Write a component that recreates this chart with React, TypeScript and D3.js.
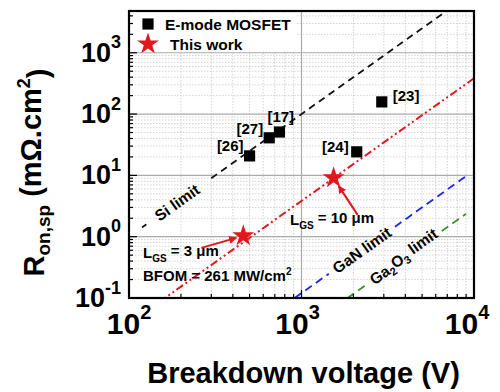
import React, { useEffect, useRef } from "react";
import * as d3 from "d3";

// E-mode MOSFET literature points (breakdown V, Ron,sp in mOhm.cm2)
const refLabels = ["[26]", "[27]", "[17]", "[24]", "[23]"];
const refVoltage = [500, 650, 745, 2090, 2920];
const refRon = [20.8, 41, 51, 24.2, 158];

// this work
const workVoltage = [460, 1535];
const workRon = [1.03, 9.1];
const workLabels = ["3", "10"];

// limit lines: Ron = k * V^2, drawn as segments (gaps leave room for labels)
const limitNames = ["Si", "GaN", "Ga2O3", "BFOM"];
const limitK = [1.0e-4, 1.2e-7, 2.92e-8, 3.83e-6];
const limitSegments = [
  [[119, 126], [300, 6700]],
  [[913, 1440], [3480, 8980]],
  [[1849, 2330], [6500, 8980]],
  [[150, 12000]],
];
const limitColors = ["#111", "#1f24f0", "#3f8a2c", "#e3161d"];
const limitDash = ["7,5", "8,5", "8,5", "8,3,2,3,2,3"];

const xTicks = [100, 1000, 10000];
const yTicks = [0.1, 1, 10, 100, 1000];

const W = 500;
const H = 392;
const FONT = "'Liberation Sans', Arial, sans-serif";

const App: React.FC = () => {
  const svgRef = useRef<SVGSVGElement>(null);

  useEffect(() => {
    if (!svgRef.current) return;
    const svg = d3.select(svgRef.current);
    svg.selectAll("*").remove();

    const left = 129, right = 474, top = 11, bottom = 298;
    const x = d3.scaleLog().domain([100, 10000]).range([left, right]);
    const y = d3.scaleLog().domain([0.1, 4800]).range([bottom, top]);

    const defs = svg.append("defs");
    defs.append("clipPath").attr("id", "plot-clip")
      .append("rect").attr("x", left).attr("y", top)
      .attr("width", right - left).attr("height", bottom - top);
    defs.append("marker").attr("id", "arrow-red")
      .attr("viewBox", "0 0 10 10").attr("refX", 9).attr("refY", 5)
      .attr("markerWidth", 4).attr("markerHeight", 4)
      .attr("orient", "auto")
      .append("path").attr("d", "M0,0 L10,5 L0,10 z").attr("fill", "#e3161d");

    svg.append("rect").attr("width", W).attr("height", H).attr("fill", "white");

    // grid
    const grid = svg.append("g");
    const xMinor: number[] = [];
    for (const d of [100, 1000]) for (let m = 2; m <= 9; m++) xMinor.push(d * m);
    const yMinor: number[] = [];
    for (const d of [0.1, 1, 10, 100, 1000]) for (let m = 2; m <= 9; m++) if (d * m < 4800) yMinor.push(d * m);

    grid.selectAll(".xm").data(xMinor).enter().append("line")
      .attr("x1", (d) => x(d)).attr("x2", (d) => x(d)).attr("y1", top).attr("y2", bottom)
      .attr("stroke", "#c8c8c8").attr("stroke-width", 0.8).attr("stroke-dasharray", "1.5,1.5");
    grid.selectAll(".ym").data(yMinor).enter().append("line")
      .attr("y1", (d) => y(d)).attr("y2", (d) => y(d)).attr("x1", left).attr("x2", right)
      .attr("stroke", "#c8c8c8").attr("stroke-width", 0.8).attr("stroke-dasharray", "1.5,1.5");
    grid.selectAll(".xM").data(xTicks.slice(1, -1)).enter().append("line")
      .attr("x1", (d) => x(d)).attr("x2", (d) => x(d)).attr("y1", top).attr("y2", bottom)
      .attr("stroke", "#aaa").attr("stroke-width", 1.2);
    grid.selectAll(".yM").data(yTicks.slice(1)).enter().append("line")
      .attr("y1", (d) => y(d)).attr("y2", (d) => y(d)).attr("x1", left).attr("x2", right)
      .attr("stroke", "#aaa").attr("stroke-width", 1.2);

    // legend background
    svg.append("rect").attr("x", left + 2).attr("y", top + 2)
      .attr("width", 165).attr("height", y(1000) - top - 4).attr("fill", "white");

    // limit lines
    const lineGen = d3.line<number>().x((v) => x(v));
    const lines = svg.append("g").attr("clip-path", "url(#plot-clip)");
    limitNames.forEach((name, i) => {
      limitSegments[i].forEach((seg) => {
        const vs = d3.range(0, 21).map((j) => seg[0] * Math.pow(seg[1] / seg[0], j / 20));
        lines.append("path")
          .attr("d", lineGen.y((v) => y(limitK[i] * v * v))(vs) as string)
          .attr("fill", "none")
          .attr("stroke", limitColors[i])
          .attr("stroke-width", name === "BFOM" ? 2 : 1.8)
          .attr("stroke-dasharray", limitDash[i]);
      });
    });

    // limit labels along the lines
    const angle = (-Math.atan((2 * (y(1) - y(10))) / (x(1000) - x(100))) * 180) / Math.PI;
    const limitLabel = (v: number, k: number, build: (t: any) => void) => {
      const px = x(v), py = y(k * v * v);
      const t = svg.append("text")
        .attr("transform", `translate(${px},${py}) rotate(${angle})`)
        .attr("text-anchor", "middle").attr("dy", "0.35em")
        .style("font-family", FONT).style("font-weight", "bold").style("font-size", "15.5px");
      build(t);
    };
    limitLabel(190, limitK[0], (t) => t.text("Si limit"));
    limitLabel(2240, limitK[1], (t) => t.text("GaN limit"));
    limitLabel(3950, limitK[2], (t) => {
      t.append("tspan").text("Ga");
      t.append("tspan").text("2").attr("font-size", "11px").attr("dy", "0.3em");
      t.append("tspan").text("O").attr("dy", "-0.3em");
      t.append("tspan").text("3").attr("font-size", "11px").attr("dy", "0.3em");
      t.append("tspan").text(" limit").attr("dy", "-0.3em");
    });

    // literature squares
    const sq = d3.symbol().type(d3.symbolSquare).size(125);
    svg.selectAll(".ref").data(refVoltage).enter().append("path")
      .attr("d", sq as any)
      .attr("transform", (d, i) => `translate(${x(d)},${y(refRon[i])})`)
      .attr("fill", "#000");
    const lblDx = [-6, -6, -12, -8, 11];
    const lblDy = [-5, -4, -10, 0, -1];
    svg.selectAll(".refl").data(refLabels).enter().append("text")
      .attr("x", (d, i) => x(refVoltage[i]) + lblDx[i])
      .attr("y", (d, i) => y(refRon[i]) + lblDy[i])
      .attr("text-anchor", (d, i) => (lblDx[i] > 0 || i === 2 ? "start" : "end"))
      .style("font-family", FONT).style("font-weight", "bold").style("font-size", "15px")
      .text((d) => d);

    // this work stars
    const star = d3.symbol().type(d3.symbolStar).size(150);
    svg.selectAll(".work").data(workVoltage).enter().append("path")
      .attr("d", star as any)
      .attr("transform", (d, i) => `translate(${x(d)},${y(workRon[i])})`)
      .attr("fill", "#e3161d");

    // arrows and annotations
    const s1x = x(workVoltage[0]), s1y = y(workRon[0]);
    const s2x = x(workVoltage[1]), s2y = y(workRon[1]);
    svg.append("line").attr("x1", s1x - 42).attr("y1", s1y + 12)
      .attr("x2", s1x - 7).attr("y2", s1y + 2)
      .attr("stroke", "#e3161d").attr("stroke-width", 2).attr("marker-end", "url(#arrow-red)");
    svg.append("line").attr("x1", s2x + 24).attr("y1", s2y + 37)
      .attr("x2", s2x + 5).attr("y2", s2y + 8)
      .attr("stroke", "#e3161d").attr("stroke-width", 2).attr("marker-end", "url(#arrow-red)");

    const lgs = (tx: number, ty: number, val: string) => {
      const t = svg.append("text").attr("x", tx).attr("y", ty)
        .style("font-family", FONT).style("font-weight", "bold").style("font-size", "15px");
      t.append("tspan").text("L");
      t.append("tspan").text("GS").attr("font-size", "10px").attr("dy", "0.35em");
      t.append("tspan").text(` = ${val} \u03bcm`).attr("dy", "-0.35em");
    };
    lgs(143, 258, workLabels[0]);
    lgs(290, 225, workLabels[1]);

    const bf = svg.append("text").attr("x", 143).attr("y", 281)
      .style("font-family", FONT).style("font-weight", "bold").style("font-size", "15px");
    bf.append("tspan").text("BFOM = 261 MW/cm");
    bf.append("tspan").text("2").attr("font-size", "10px").attr("dy", "-0.6em");

    // legend
    svg.append("path").attr("d", sq as any).attr("transform", "translate(148,24)").attr("fill", "#000");
    svg.append("path").attr("d", star as any).attr("transform", "translate(148,44)").attr("fill", "#e3161d");
    svg.append("text").attr("x", 165).attr("y", 30)
      .style("font-family", FONT).style("font-weight", "bold").style("font-size", "15.5px")
      .text("E-mode MOSFET");
    svg.append("text").attr("x", 170).attr("y", 50)
      .style("font-family", FONT).style("font-weight", "bold").style("font-size", "15.5px")
      .text("This work");

    // ticks (inward)
    const ticks = svg.append("g").attr("stroke", "#000").attr("stroke-width", 1.2);
    ticks.selectAll(".xt").data(xMinor).enter().append("line")
      .attr("x1", (d) => x(d)).attr("x2", (d) => x(d)).attr("y1", bottom).attr("y2", bottom - 4);
    ticks.selectAll(".xT").data(xTicks).enter().append("line")
      .attr("x1", (d) => x(d)).attr("x2", (d) => x(d)).attr("y1", bottom).attr("y2", bottom - 8);
    ticks.selectAll(".yt").data(yMinor).enter().append("line")
      .attr("y1", (d) => y(d)).attr("y2", (d) => y(d)).attr("x1", left).attr("x2", left + 4);
    ticks.selectAll(".yT").data(yTicks).enter().append("line")
      .attr("y1", (d) => y(d)).attr("y2", (d) => y(d)).attr("x1", left).attr("x2", left + 8);

    // frame
    svg.append("rect").attr("x", left).attr("y", top)
      .attr("width", right - left).attr("height", bottom - top)
      .attr("fill", "none").attr("stroke", "#000").attr("stroke-width", 2.2);

    // tick labels
    const expLabel = (g: any, v: number, supSize: string) => {
      g.append("tspan").text("10");
      g.append("tspan").text(String(Math.round(Math.log10(v))))
        .attr("font-size", supSize).attr("dy", "-0.75em");
    };
    yTicks.forEach((v) => {
      const t = svg.append("text").attr("x", 121).attr("y", y(v) + 9)
        .attr("text-anchor", "end")
        .style("font-family", FONT).style("font-weight", "bold").style("font-size", "27px");
      expLabel(t, v, "18px");
    });
    const xLblShift = [0, -4, -7];
    xTicks.forEach((v, i) => {
      const t = svg.append("text").attr("x", x(v) + xLblShift[i]).attr("y", 334)
        .attr("text-anchor", "middle")
        .style("font-family", FONT).style("font-weight", "bold").style("font-size", "30px");
      expLabel(t, v, "20px");
    });

    // axis titles
    svg.append("text").attr("x", (left + right) / 2 + 2).attr("y", 383)
      .attr("text-anchor", "middle")
      .style("font-family", FONT).style("font-weight", "bold").style("font-size", "29px")
      .text("Breakdown voltage (V)");
    const yt = svg.append("text")
      .attr("transform", `translate(44,${(top + bottom) / 2 + 18}) rotate(-90)`)
      .attr("text-anchor", "middle")
      .style("font-family", FONT).style("font-weight", "bold").style("font-size", "29px");
    yt.append("tspan").text("R");
    yt.append("tspan").text("on,sp").attr("font-size", "19px").attr("dy", "0.3em");
    yt.append("tspan").text(" (m\u03a9.cm").attr("dy", "-0.3em");
    yt.append("tspan").text("2").attr("font-size", "18px").attr("dy", "-0.6em");
    yt.append("tspan").text(")").attr("dy", "0.6em");
  }, []);

  return (
    <svg
      ref={svgRef}
      width={W}
      height={H}
      viewBox={`0 0 ${W} ${H}`}
      style={{ position: "absolute", left: 0, top: 0, display: "block" }}
    />
  );
};

export default App;
